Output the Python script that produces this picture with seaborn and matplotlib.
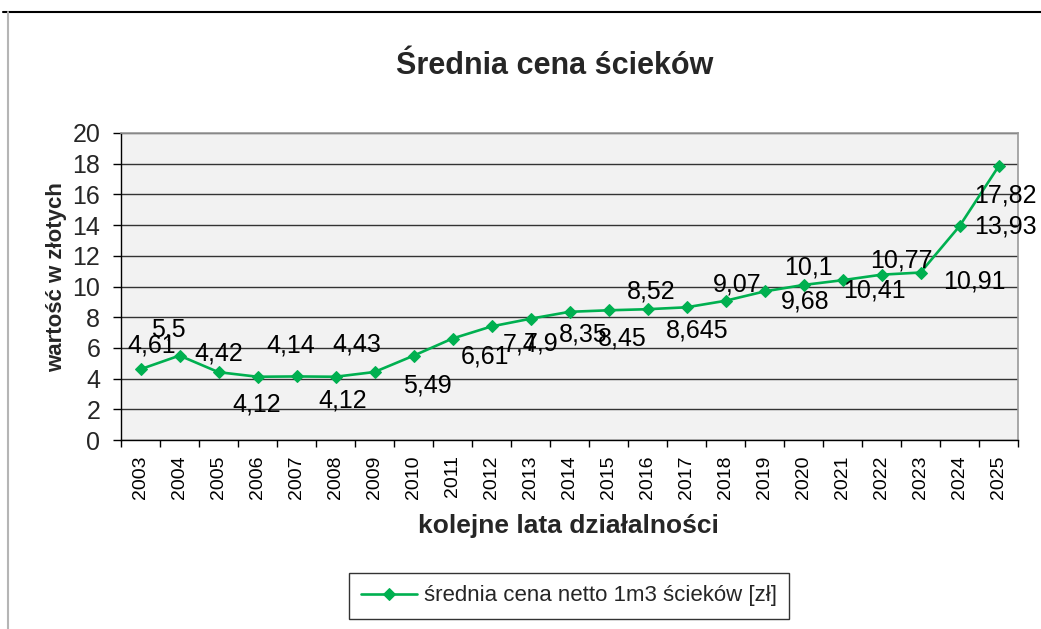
import matplotlib
matplotlib.use("Agg")
import matplotlib.pyplot as plt
from matplotlib.lines import Line2D
import seaborn as sns

years = list(range(2003, 2026))
ceny = [4.61, 5.5, 4.42, 4.12, 4.14, 4.12, 4.43, 5.49, 6.61, 7.4, 7.9, 8.35,
        8.45, 8.52, 8.645, 9.07, 9.68, 10.1, 10.41, 10.77, 10.91, 13.93, 17.82]
seria = "średnia cena netto 1m3 ścieków [zł]"

# przesunięcia etykiet danych (px: w prawo, w dół) - jak ręcznie ułożone w Excelu
label_off = [(11, -24), (-11, -26), (0, -19), (-1, 28), (-6, -31), (7, 24),
             (-18, -27), (14, 30), (32, 18), (29, 18), (11, 25), (14, 23),
             (14, 28), (4, -18), (11, 23), (12, -16), (41, 10), (5, -17),
             (32, 10), (20, -14), (54, 9), (46, 0), (7, 29)]

sns.set_style("white")
plt.rcParams["font.family"] = ["Liberation Sans", "DejaVu Sans"]

fig = plt.figure(figsize=(10.41, 6.29), dpi=100)
ax = fig.add_axes([121 / 1041, 1 - 440 / 629, 897 / 1041, 307 / 629])
ax.set_facecolor("#F2F2F2")

sns.lineplot(x=years, y=ceny, ax=ax, color="#00B050", lw=1.9, marker="D",
             markersize=6, markeredgecolor="#00B050", label=seria)

for yr, v, (dx, dy) in zip(years, ceny, label_off):
    txt = f"{v:g}".replace(".", ",")
    ax.annotate(txt, (yr, v), xytext=(dx * 0.72, -dy * 0.72),
                textcoords="offset points", ha="center", va="center",
                fontsize=18, color="black")

ax.set_xlim(years[0] - 0.5, years[-1] + 0.5)
ax.set_ylim(0, 20)
ax.set_yticks(range(0, 21, 2))
ax.tick_params(axis="y", direction="out", length=6, width=1, pad=9,
               labelsize=18, color="black", left=True)
ax.set_xticks([y - 0.5 for y in years] + [years[-1] + 0.5])
ax.set_xticklabels([])
ax.set_xticks(years, minor=True)
ax.set_xticklabels([str(y) for y in years], minor=True, rotation=90,
                   fontsize=14, color="black")
ax.tick_params(axis="x", which="major", direction="out", length=5, width=1,
               color="black", bottom=True)
ax.tick_params(axis="x", which="minor", length=0, pad=11)

ax.yaxis.grid(True, color="#333333", lw=1)
ax.xaxis.grid(False)
ax.set_axisbelow(True)
for s in ["left", "bottom"]:
    ax.spines[s].set_color("black")
    ax.spines[s].set_linewidth(1)
for s in ["top", "right"]:
    ax.spines[s].set_color("#9a9a9a")
    ax.spines[s].set_linewidth(1.2)
ax.set_xlabel("")
ax.set_ylabel("")

h, l = ax.get_legend_handles_labels()
ax.get_legend().remove()
leg = fig.legend(h, l, loc="center", bbox_to_anchor=(569 / 1041, 1 - 596 / 629),
                 fontsize=16, frameon=True, fancybox=False, edgecolor="black",
                 handlelength=2.5, handletextpad=0.3, borderpad=0.55)
leg.get_frame().set_linewidth(1)

fig.text(555 / 1041, 1 - 66 / 629, "Średnia cena ścieków", ha="center",
         va="center", fontsize=22, fontweight="bold")
fig.text(568 / 1041, 1 - 526 / 629, "kolejne lata działalności", ha="center",
         va="center", fontsize=19, fontweight="bold")
fig.text(57 / 1041, 1 - 277 / 629, "wartość w złotych", ha="center",
         va="center", fontsize=16, fontweight="bold", rotation=90)

# ramka obszaru wykresu (widoczna tylko góra i lewa strona)
fig.add_artist(Line2D([3 / 1041, 1], [1 - 12 / 629] * 2,
                      transform=fig.transFigure, color="black", lw=1.5))
fig.add_artist(Line2D([8 / 1041] * 2, [0, 1 - 12 / 629],
                      transform=fig.transFigure, color="#b5b5b5", lw=1.5))

fig.savefig("out.png", dpi=100)
